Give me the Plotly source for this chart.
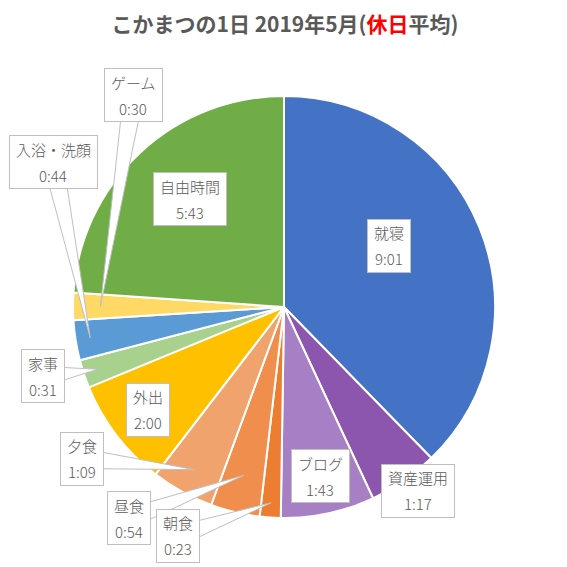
import math
import plotly.graph_objects as go

# data: labels and time (h:mm)
labels = ["就寝", "資産運用", "ブログ", "朝食", "昼食", "夕食",
          "外出", "家事", "入浴・洗顔", "ゲーム", "自由時間"]
times = ["9:01", "1:17", "1:43", "0:23", "0:54", "1:09",
         "2:00", "0:31", "0:44", "0:30", "5:43"]
colors = ["#4472C4", "#8C55AE", "#A77FC4", "#ED7D31", "#F08E4D", "#F1A36E",
          "#FFC000", "#A9D18E", "#5B9BD5", "#FFD966", "#70AD47"]

minutes = [int(t.split(":")[0]) * 60 + int(t.split(":")[1]) for t in times]

# label placement: radial fraction of anchor, box offset in px, callout or not
label_pos = {
    "就寝": (0.57, -6, -16, False),
    "資産運用": (1.0, 14, 10, False),
    "ブログ": (0.8, 1, 4, False),
    "朝食": (0.93, -93, 33, True),
    "昼食": (0.82, -115, 43, True),
    "夕食": (0.88, -112, -11, True),
    "外出": (0.81, 0, -1, False),
    "家事": (0.93, -55, 7, True),
    "入浴・洗顔": (0.93, -37, -176, True),
    "ゲーム": (0.87, 33, -211, True),
    "自由時間": (0.68, 4, -3, False),
}

# page body has an 8px margin, so the figure is drawn 8px smaller and shifted
OFF = 8
W = H = 567 - OFF
CX, CY, R = 284 - OFF, 307 - OFF, 211
FONT = "Noto Sans CJK JP, sans-serif"
TXT = "#595959"
BORDER = "#BFBFBF"

fig = go.Figure(go.Pie(
    labels=labels,
    values=minutes,
    sort=False,
    direction="clockwise",
    rotation=0,
    marker=dict(colors=colors, line=dict(color="white", width=2)),
    textinfo="none",
    hoverinfo="label",
    domain=dict(x=[(CX - R) / W, (CX + R) / W], y=[1 - (CY + R) / H, 1 - (CY - R) / H]),
))


def to_paper(px_, py_):
    return px_ / W, 1 - py_ / H


total = sum(minutes)
annotations = []
shapes = []
cum = 0
for name, t, m in zip(labels, times, minutes):
    theta = math.radians((cum + m / 2) / total * 360)
    cum += m
    f, ox, oy, line = label_pos[name]
    px_ = CX + f * R * math.sin(theta)
    py_ = CY - f * R * math.cos(theta)
    x, y = to_paper(px_, py_)
    bx, by = px_ + ox, py_ + oy  # box centre in px

    if line:
        # wedge-shaped callout from the box to the slice
        dx, dy = px_ - bx, py_ - by
        d = math.hypot(dx, dy)
        nx, ny = -dy / d * 10, dx / d * 10
        p1 = to_paper(bx + nx, by + ny)
        p2 = to_paper(bx - nx, by - ny)
        shapes.append(dict(
            type="path", xref="paper", yref="paper", layer="above",
            path=f"M {p1[0]} {p1[1]} L {x} {y} L {p2[0]} {p2[1]} Z",
            fillcolor="white", line=dict(color=BORDER, width=1)))

    bw = len(name) * 15 + 12
    cxp, cyp = to_paper(bx, by)
    annotations.append(dict(x=cxp, y=cyp, xref="paper", yref="paper", text=" ",
                            xanchor="center", yanchor="middle", showarrow=False,
                            width=max(bw, 40), height=52, bgcolor="white",
                            bordercolor=BORDER, borderwidth=1, borderpad=0))
    for txt, sh in [(name, 13), (t, -13)]:
        annotations.append(dict(x=cxp, y=cyp, xref="paper", yref="paper", text=txt,
                                xanchor="center", yanchor="middle",
                                showarrow=False, yshift=sh,
                                font=dict(family=FONT, size=15, color=TXT, weight=300)))

fig.update_layout(
    width=W, height=H,
    margin=dict(l=0, r=0, t=0, b=0),
    paper_bgcolor="white",
    showlegend=False,
    title=dict(text="<b>こかまつの1日 2019年5月(<span style='color:#FF0000'>休日</span>平均)</b>",
               x=(285 - OFF) / W, xanchor="center", y=1 - (25 - OFF) / H, yanchor="middle",
               font=dict(family=FONT, size=21, color=TXT)),
    shapes=shapes,
    annotations=annotations,
)

fig.write_html("out.html")
